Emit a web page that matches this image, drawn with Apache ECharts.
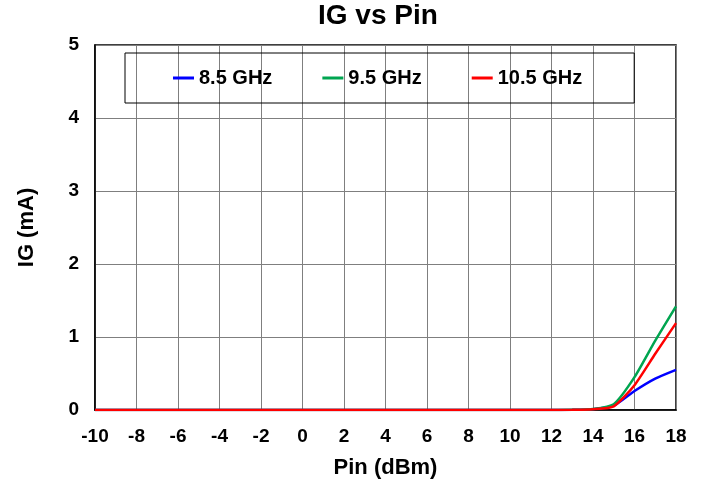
<!DOCTYPE html>
<html>
<head>
<meta charset="utf-8">
<script src="https://cdn.jsdelivr.net/npm/echarts@6/dist/echarts.min.js"></script>
<style>
html, body { margin: 0; padding: 0; background: #fff; }
#chart { width: 704px; height: 484px; }
</style>
</head>
<body>
<div id="chart"></div>
<script>
// Pin (dBm), 1 dB steps
var pin = [-10,-9,-8,-7,-6,-5,-4,-3,-2,-1,0,1,2,3,4,5,6,7,8,9,10,11,12,13,14,15,16,17,18];
// IG (mA) per frequency
var ig85  = [0,0,0,0,0,0,0,0,0,0,0,0,0,0,0,0,0,0,0,0,0,0,0,0.002,0.012,0.06,0.26,0.43,0.55];
var ig95  = [0,0,0,0,0,0,0,0,0,0,0,0,0,0,0,0,0,0,0,0,0,0,0,0.002,0.014,0.08,0.45,0.95,1.42];
var ig105 = [0,0,0,0,0,0,0,0,0,0,0,0,0,0,0,0,0,0,0,0,0,0,0,0.002,0.01,0.05,0.34,0.77,1.19];
var seriesNames = ['8.5 GHz','9.5 GHz','10.5 GHz'];
var seriesColors = ['#0000ff','#00a550','#ff0000'];

function pairs(xs, ys){
    var out = [];
    for (var i = 0; i < xs.length; i++) {
        out.push([xs[i], ys[i]]);
    }
    return out;
}

var font = 'Liberation Sans, Arial, sans-serif';
var chart = echarts.init(document.getElementById('chart'), null, {renderer:'canvas'});

var allData = [ig85, ig95, ig105];
var series = [];
for (var k = 0; k < 3; k++) {
    series.push({
        name: seriesNames[k],
        type: 'line',
        data: pairs(pin, allData[k]),
        symbol: 'none',
        smooth: 0.2,
        lineStyle: { color: seriesColors[k], width: 2.5 },
        itemStyle: { color: seriesColors[k] },
        animation: false
    });
}

var option = {
    backgroundColor: '#ffffff',
    textStyle: { fontFamily: font },
    title: {
        text: 'IG vs Pin',
        left: 318,
        top: 2,
        padding: 0,
        textStyle: { fontFamily: font, fontSize: 28, fontWeight: 'bold', color: '#000' }
    },
    legend: {
        left: 125,
        top: 53,
        padding: [15, 52, 15, 48],
        itemGap: 50,
        itemWidth: 21,
        itemHeight: 3,
        icon: 'rect',
        borderColor: '#000',
        borderWidth: 1,
        data: seriesNames,
        textStyle: { fontFamily: font, fontSize: 20, fontWeight: 'bold', color: '#000' }
    },
    grid: {
        left: 95,
        right: 28,
        top: 45,
        bottom: 74,
        show: true,
        borderColor: '#000',
        borderWidth: 1.5
    },
    xAxis: {
        type: 'value',
        min: -10,
        max: 18,
        interval: 2,
        name: 'Pin (dBm)',
        nameLocation: 'middle',
        nameGap: 47,
        nameTextStyle: { fontFamily: font, fontSize: 22, fontWeight: 'bold', color: '#000' },
        axisLine: { lineStyle: { color: '#000', width: 1.5 } },
        axisTick: { show: false },
        axisLabel: { margin: 17, fontFamily: font, fontSize: 19, fontWeight: 'bold', color: '#000' },
        splitLine: { lineStyle: { color: '#7f7f7f', width: 1 } }
    },
    yAxis: {
        type: 'value',
        min: 0,
        max: 5,
        interval: 1,
        name: 'IG (mA)',
        nameLocation: 'middle',
        nameGap: 57,
        nameTextStyle: { fontFamily: font, fontSize: 22, fontWeight: 'bold', color: '#000' },
        axisLine: { show: true, onZero: false, lineStyle: { color: '#000', width: 1.5 } },
        axisTick: { show: false },
        axisLabel: { margin: 16, fontFamily: font, fontSize: 19, fontWeight: 'bold', color: '#000' },
        splitLine: { lineStyle: { color: '#7f7f7f', width: 1 } }
    },
    series: series
};

chart.setOption(option);
</script>
</body>
</html>
